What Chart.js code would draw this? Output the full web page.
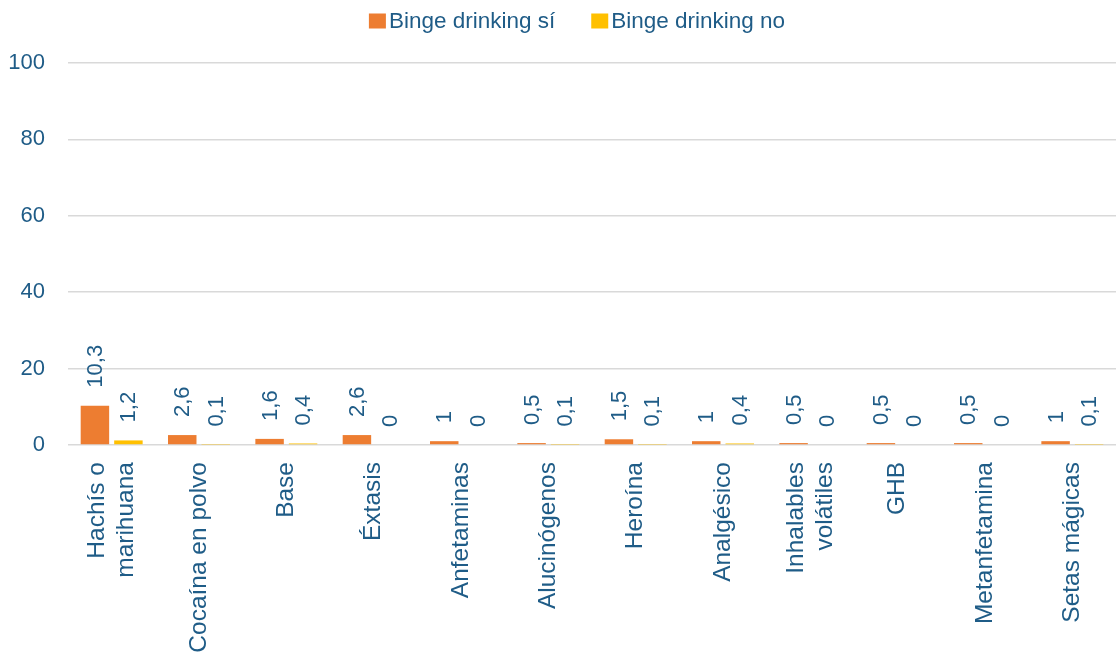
<!DOCTYPE html>
<html>
<head>
<meta charset="utf-8">
<script src="https://cdn.jsdelivr.net/npm/chart.js@4"></script>
<style>
html,body{margin:0;padding:0;background:#fff;}
#wrap{width:1116px;height:656px;position:relative;}
</style>
</head>
<body>
<div id="wrap"><canvas id="c" width="1116" height="656"></canvas></div>
<script>
const categories = [
  ["Hachís o", "marihuana"],
  "Cocaína en polvo",
  "Base",
  "Éxtasis",
  "Anfetaminas",
  "Alucinógenos",
  "Heroína",
  "Analgésico",
  ["Inhalables", "volátiles"],
  "GHB",
  "Metanfetamina",
  "Setas mágicas"
];
const seriesNames = ["Binge drinking sí", "Binge drinking no"];
const bingeSi = [10.3, 2.6, 1.6, 2.6, 1, 0.5, 1.5, 1, 0.5, 0.5, 0.5, 1];
const bingeNo = [1.2, 0.1, 0.4, 0, 0, 0.1, 0.1, 0.4, 0, 0, 0, 0.1];
const yTicks = [0, 20, 40, 60, 80, 100];

const TEXT = '#1F5C87';
const FONT = "'Liberation Sans', Arial, sans-serif";
const COLORS = ['#ED7D31', '#FFC000'];

// value labels above bars (rotated)
const valueLabels = {
  id: 'valueLabels',
  afterDatasetsDraw(chart) {
    const ctx = chart.ctx;
    ctx.save();
    ctx.fillStyle = TEXT;
    ctx.font = "22px " + FONT;
    ctx.textAlign = 'left';
    ctx.textBaseline = 'middle';
    chart.data.datasets.forEach((ds, di) => {
      const meta = chart.getDatasetMeta(di);
      meta.data.forEach((bar, i) => {
        const txt = String(ds.data[i]).replace('.', ',');
        ctx.save();
        ctx.translate(bar.x + 1, bar.y - 18);
        ctx.rotate(-Math.PI / 2);
        ctx.fillText(txt, 0, 0);
        ctx.restore();
      });
    });
    ctx.restore();
  }
};

// category labels, rotated, multi-line centred on the category
const categoryLabels = {
  id: 'categoryLabels',
  afterDraw(chart) {
    const ctx = chart.ctx;
    const xs = chart.scales.x;
    const lh = 29;
    ctx.save();
    ctx.fillStyle = TEXT;
    ctx.font = "24.5px " + FONT;
    ctx.textAlign = 'right';
    ctx.textBaseline = 'middle';
    chart.data.labels.forEach((lab, i) => {
      const lines = Array.isArray(lab) ? lab : [lab];
      const x = xs.getPixelForTick(i);
      ctx.save();
      ctx.translate(x, xs.top + 17);
      ctx.rotate(-Math.PI / 2);
      lines.forEach((ln, j) => {
        ctx.fillText(ln, 0, (j - (lines.length - 1) / 2) * lh);
      });
      ctx.restore();
    });
    ctx.restore();
  }
};

// legend drawn at top
const topLegend = {
  id: 'topLegend',
  afterDraw(chart) {
    const ctx = chart.ctx;
    ctx.save();
    ctx.font = "22.5px " + FONT;
    ctx.textBaseline = 'middle';
    ctx.textAlign = 'left';
    const box = 17, gapText = 3, gapItem = 36, cy = 21;
    const items = chart.data.datasets.map(d => ({ label: d.label, color: d.backgroundColor }));
    let total = 0;
    items.forEach((it, k) => {
      it.w = ctx.measureText(it.label).width;
      total += box + gapText + it.w + (k ? gapItem : 0);
    });
    let x = 577 - total / 2;
    items.forEach((it, k) => {
      if (k) x += gapItem;
      ctx.fillStyle = it.color;
      ctx.fillRect(x, cy - 7.5, box, 15);
      x += box + gapText;
      ctx.fillStyle = TEXT;
      ctx.fillText(it.label, x, cy + 1);
      x += it.w;
    });
    ctx.restore();
  }
};

new Chart(document.getElementById('c'), {
  type: 'bar',
  data: {
    labels: categories,
    datasets: [
      { label: seriesNames[0], data: bingeSi, backgroundColor: COLORS[0], categoryPercentage: 0.767, barPercentage: 0.85 },
      { label: seriesNames[1], data: bingeNo, backgroundColor: COLORS[1], categoryPercentage: 0.767, barPercentage: 0.85 }
    ]
  },
  options: {
    responsive: false,
    animation: false,
    layout: { padding: { left: 0, right: 0, top: 63, bottom: 0 } },
    plugins: {
      legend: { display: false },
      tooltip: { enabled: false }
    },
    scales: {
      x: {
        grid: { display: false, drawTicks: false },
        border: { display: false },
        ticks: { display: false, autoSkip: false },
        afterFit(scale) { scale.height = 211; }
      },
      y: {
        min: 0,
        max: 100,
        afterBuildTicks(scale) { scale.ticks = yTicks.map(v => ({ value: v })); },
        grid: { color: '#D9D9D9', lineWidth: 1.5, drawTicks: false },
        border: { display: false },
        ticks: {
          color: TEXT,
          font: { family: FONT, size: 22 },
          padding: 23
        },
        afterFit(scale) { scale.width = 68; }
      }
    }
  },
  plugins: [valueLabels, categoryLabels, topLegend]
});
</script>
</body>
</html>
